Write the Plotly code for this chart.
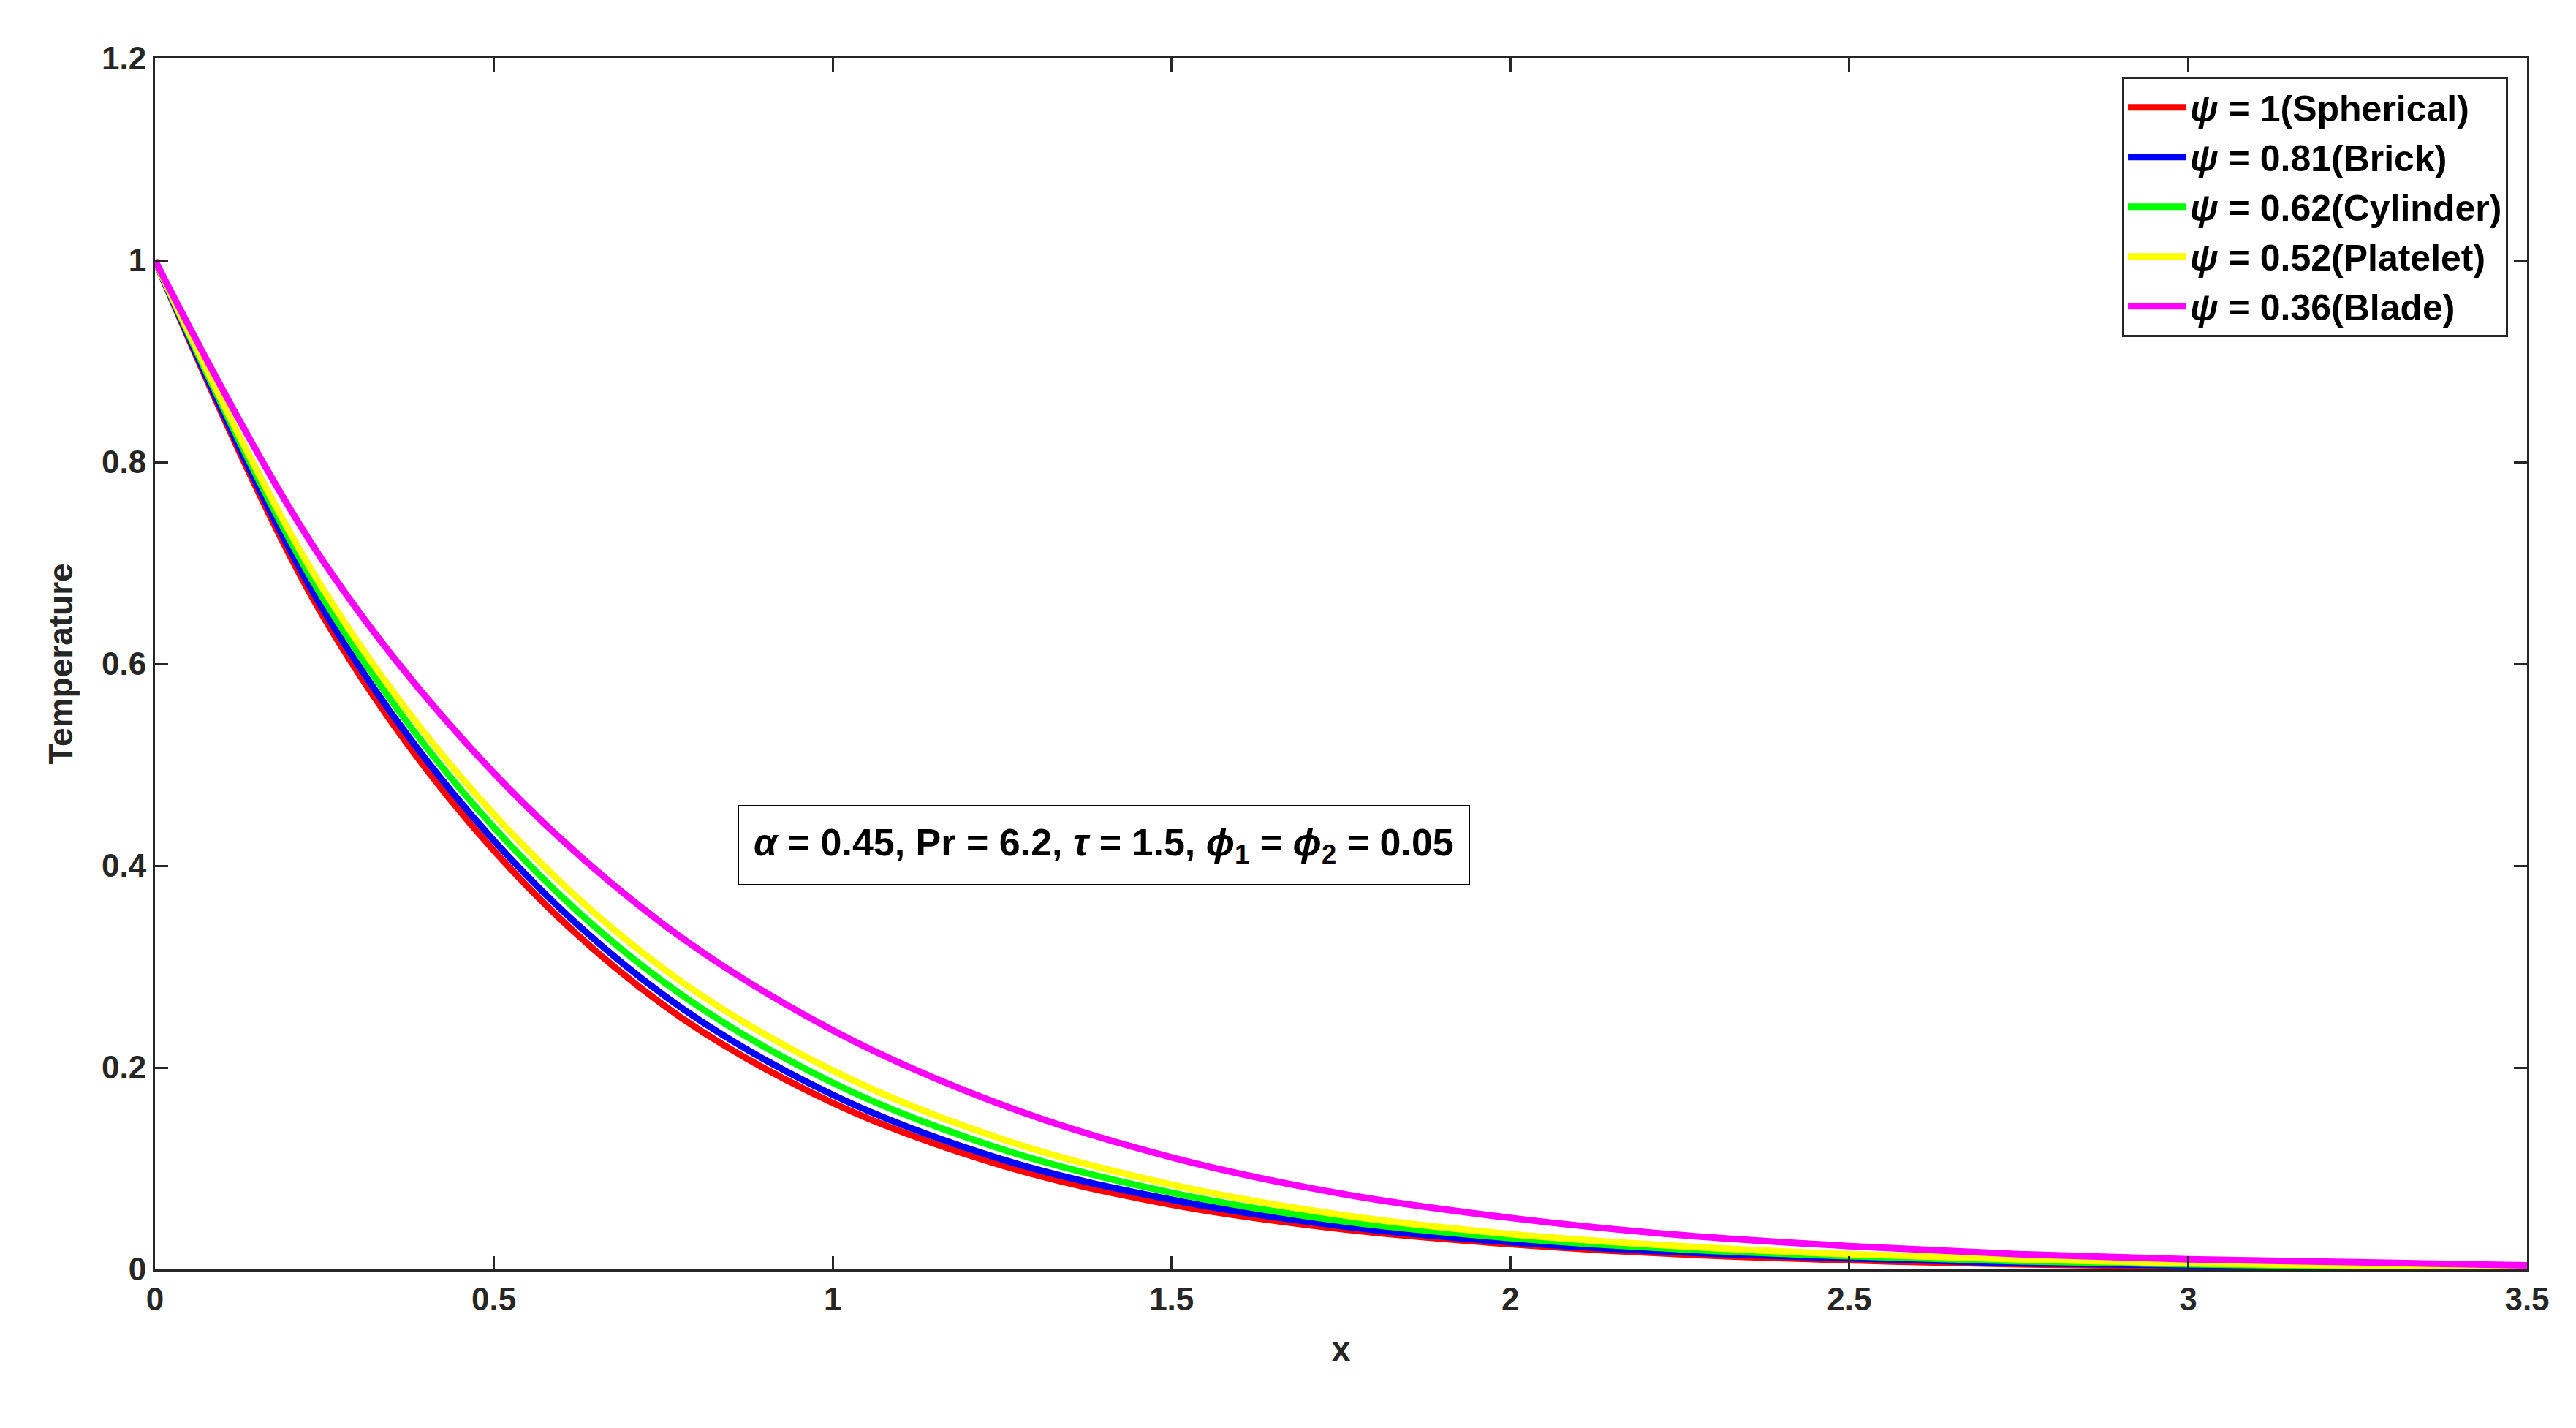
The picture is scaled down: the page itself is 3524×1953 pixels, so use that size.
import plotly.graph_objects as go

x = [0, 0.25, 0.5, 0.75, 1.0, 1.25, 1.5, 1.75, 2.0, 2.25, 2.5, 2.75, 3.0, 3.25, 3.5]
names = ["<i>ψ</i> = 1(Spherical)", "<i>ψ</i> = 0.81(Brick)", "<i>ψ</i> = 0.62(Cylinder)",
         "<i>ψ</i> = 0.52(Platelet)", "<i>ψ</i> = 0.36(Blade)"]
colors = ["#ff0000", "#0000ff", "#00ff00", "#ffff00", "#ff00ff"]
y_sph = [1, 0.645, 0.415, 0.262, 0.165, 0.103, 0.064, 0.040, 0.025, 0.015, 0.009, 0.005, 0.003, 0.002, 0.001]
y_bri = [1, 0.652, 0.425, 0.272, 0.173, 0.109, 0.069, 0.043, 0.027, 0.017, 0.011, 0.006, 0.004, 0.002, 0.001]
y_cyl = [1, 0.663, 0.438, 0.285, 0.185, 0.119, 0.076, 0.048, 0.031, 0.020, 0.013, 0.008, 0.005, 0.003, 0.002]
y_pla = [1, 0.672, 0.451, 0.298, 0.197, 0.129, 0.084, 0.054, 0.035, 0.023, 0.015, 0.010, 0.006, 0.004, 0.002]
y_bla = [1, 0.700, 0.492, 0.342, 0.237, 0.163, 0.111, 0.075, 0.051, 0.034, 0.023, 0.015, 0.010, 0.007, 0.004]
series = [y_sph, y_bri, y_cyl, y_pla, y_bla]
xticks = [0, 0.5, 1, 1.5, 2, 2.5, 3, 3.5]
xtick_labels = ["0", "0.5", "1", "1.5", "2", "2.5", "3", "3.5"]
yticks = [0, 0.2, 0.4, 0.6, 0.8, 1.0, 1.2]
ytick_labels = ["0", "0.2", "0.4", "0.6", "0.8", "1", "1.2"]

fig = go.Figure()
for n, c, y in zip(names, colors, series):
    fig.add_trace(go.Scatter(x=x, y=y, name="<b>" + n + "</b>", mode="lines",
                             line=dict(color=c, width=9, shape="spline")))

ax = dict(showline=True, linecolor="#262626", linewidth=3, mirror="ticks", ticks="inside",
          ticklen=18, tickwidth=3, tickcolor="#262626", showgrid=False, zeroline=False,
          tickfont=dict(family="Liberation Sans", size=44, color="#262626"))
fig.update_layout(
    width=3524, height=1953, plot_bgcolor="white", paper_bgcolor="white",
    margin=dict(l=204, r=75, t=72, b=225),
    font=dict(family="Liberation Sans", size=44, color="#262626"),
    xaxis=dict(range=[0, 3.5], tickvals=xticks, ticktext=["<b>%s</b>" % t for t in xtick_labels],
               title=dict(text="<b>x</b>", font=dict(size=46), standoff=30), **ax),
    yaxis=dict(range=[0, 1.2], tickvals=yticks, ticktext=["<b>%s</b>" % t for t in ytick_labels],
               title=dict(text="<b>Temperature</b>", font=dict(size=46), standoff=25), **ax),
    legend=dict(x=0.992, y=0.985, xanchor="right", yanchor="top", bordercolor="#262626",
                borderwidth=3, bgcolor="white", font=dict(size=50, color="black"),
                itemwidth=80, tracegroupgap=0),
    annotations=[dict(x=1.40, y=0.42, xref="x", yref="y", showarrow=False,
                      text="<b><i>α</i> = 0.45, Pr = 6.2, <i>τ</i> = 1.5, <i>ϕ</i><sub>1</sub> = <i>ϕ</i><sub>2</sub> = 0.05</b>",
                      font=dict(size=52, color="black"), bordercolor="black", borderwidth=2,
                      borderpad=20, bgcolor="white")],
)
fig.write_html("out.html")
